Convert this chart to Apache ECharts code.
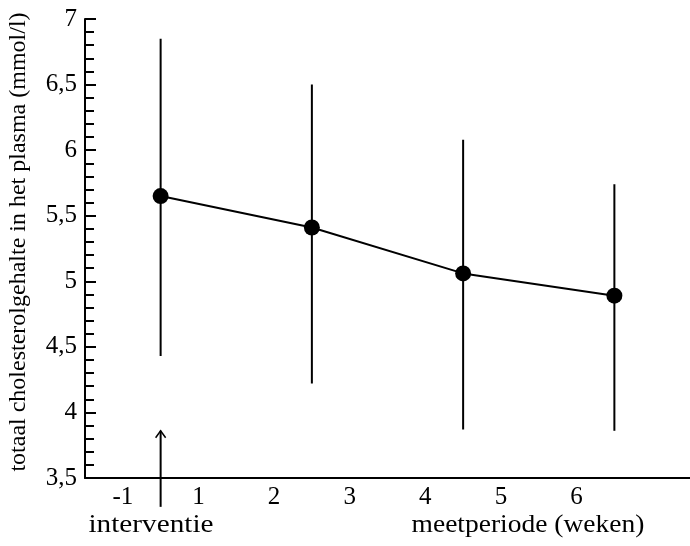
<!DOCTYPE html>
<html>
<head>
<meta charset="utf-8">
<script src="https://cdn.jsdelivr.net/npm/echarts@6/dist/echarts.min.js"></script>
<style>
  html, body { margin: 0; padding: 0; background: #fff; }
  #chart { width: 690px; height: 546px; }
</style>
</head>
<body>
<div id="chart"></div>
<script>
// week labels under the x axis (no week 0: the intervention sits there)
const weekLabels = ["-1", "1", "2", "3", "4", "5", "6", ""];
// measurement moments (weeks after intervention)
const weeks = [0, 2, 4, 6];
// mean total cholesterol (mmol/l)
const means = [5.65, 5.41, 5.06, 4.89];
// error bar ends
const highs = [6.85, 6.5, 6.08, 5.74];
const lows = [4.43, 4.22, 3.87, 3.86];
// intervention arrow: [week, top value, bottom value]
const arrow = [[0, 3.86, 3.28]];

const serif = "'Liberation Serif', 'Times New Roman', Times, serif";

const chart = echarts.init(document.getElementById("chart"));

const option = {
  backgroundColor: "#fff",
  animation: false,
  grid: { left: 85, right: -3, top: 19, bottom: 68 },
  xAxis: [
    {
      type: "category",
      data: weekLabels,
      boundaryGap: true,
      axisLine: { onZero: false, lineStyle: { color: "#000", width: 2 } },
      axisTick: { inside: true, length: 10, lineStyle: { color: "#000", width: 2 } },
      axisLabel: { color: "#000", fontFamily: serif, fontSize: 25, margin: 7 },
      splitLine: { show: false }
    },
    {
      type: "value",
      min: -1,
      max: 7,
      show: false
    }
  ],
  yAxis: {
    type: "value",
    min: 3.5,
    max: 7,
    interval: 0.5,
    axisLine: { show: true, onZero: false, lineStyle: { color: "#000", width: 2 } },
    axisTick: { show: true, inside: true, length: 11, lineStyle: { color: "#000", width: 2 } },
    minorTick: { show: true, splitNumber: 5, length: 9, lineStyle: { color: "#000", width: 2 } },
    axisLabel: {
      color: "#000",
      fontFamily: serif,
      fontSize: 25,
      margin: 8,
      formatter: v => String(v).replace(".", ",")
    },
    splitLine: { show: false }
  },
  graphic: [
    {
      type: "text",
      x: 19,
      y: 242,
      rotation: Math.PI / 2,
      style: {
        text: "totaal cholesterolgehalte in het plasma (mmol/l)",
        font: "24px " + serif,
        fill: "#000",
        align: "center",
        verticalAlign: "middle"
      }
    },
    {
      type: "text",
      x: 151,
      y: 525,
      scaleX: 1.17,
      style: {
        text: "interventie",
        font: "25px " + serif,
        fill: "#000",
        align: "center",
        verticalAlign: "middle"
      }
    },
    {
      type: "text",
      x: 528,
      y: 525,
      scaleX: 1.1,
      style: {
        text: "meetperiode (weken)",
        font: "25px " + serif,
        fill: "#000",
        align: "center",
        verticalAlign: "middle"
      }
    }
  ],
  series: [
    {
      name: "spreiding",
      type: "custom",
      xAxisIndex: 1,
      data: weeks.map((w, i) => [w, lows[i], highs[i]]),
      encode: { x: 0, y: [1, 2] },
      renderItem: function(params, api) {
        const top = api.coord([api.value(0), api.value(2)]);
        const bot = api.coord([api.value(0), api.value(1)]);
        return {
          type: "line",
          shape: { x1: top[0], y1: top[1], x2: bot[0], y2: bot[1] },
          style: { stroke: "#000", lineWidth: 2 }
        };
      },
      z: 1
    },
    {
      name: "interventie",
      type: "custom",
      xAxisIndex: 1,
      data: arrow,
      encode: { x: 0, y: [1, 2] },
      renderItem: function(params, api) {
        const top = api.coord([api.value(0), api.value(1)]);
        const bot = api.coord([api.value(0), api.value(2)]);
        return {
          type: "group",
          children: [
            {
              type: "line",
              shape: { x1: top[0], y1: top[1], x2: bot[0], y2: bot[1] },
              style: { stroke: "#000", lineWidth: 2 }
            },
            {
              type: "polyline",
              shape: { points: [[top[0] - 5, top[1] + 7], [top[0], top[1]], [top[0] + 5, top[1] + 7]] },
              style: { stroke: "#000", lineWidth: 1.5, fill: null }
            }
          ]
        };
      },
      z: 1
    },
    {
      name: "gemiddelde",
      type: "line",
      xAxisIndex: 1,
      data: weeks.map((w, i) => [w, means[i]]),
      symbol: "circle",
      symbolSize: 16,
      lineStyle: { color: "#000", width: 2 },
      itemStyle: { color: "#000" },
      z: 3
    }
  ]
};

chart.setOption(option);
</script>
</body>
</html>
